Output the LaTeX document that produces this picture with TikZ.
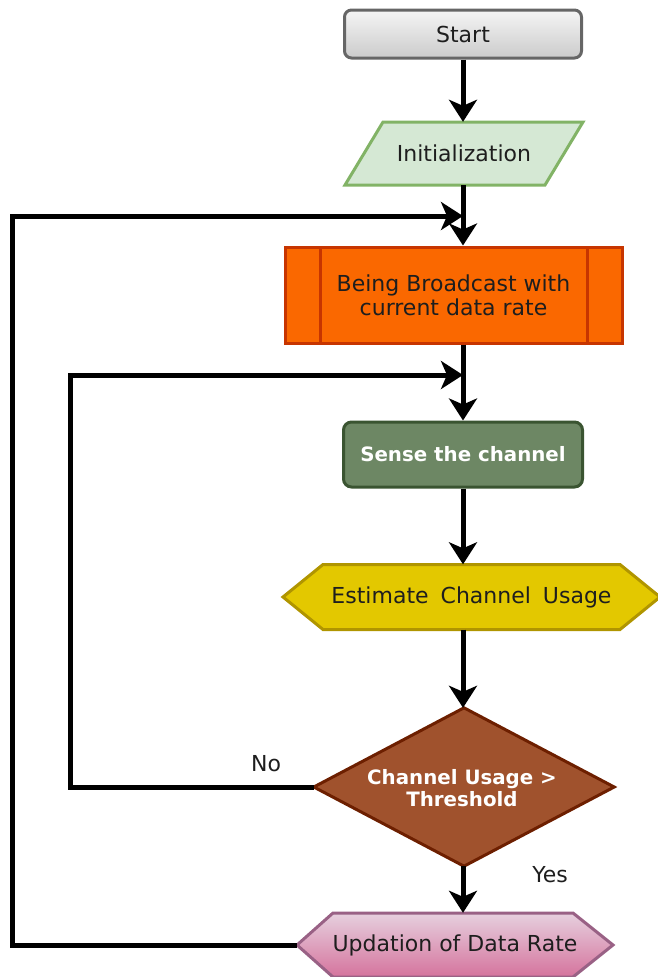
\documentclass[tikz,border=0pt]{standalone}
\usepackage{fontspec}
\setmainfont{DejaVu Sans}
\usetikzlibrary{arrows.meta}

\definecolor{txt}{HTML}{1E1E1E}
\definecolor{startfillA}{HTML}{F5F5F5}
\definecolor{startfillB}{HTML}{CBCBCB}
\definecolor{startline}{HTML}{666666}
\definecolor{initfill}{HTML}{D5E8D4}
\definecolor{initline}{HTML}{82B366}
\definecolor{bcfill}{HTML}{FA6800}
\definecolor{bcline}{HTML}{C73500}
\definecolor{sensefill}{HTML}{6D8764}
\definecolor{senseline}{HTML}{3A5431}
\definecolor{estfill}{HTML}{E3C800}
\definecolor{estline}{HTML}{B09500}
\definecolor{decfill}{HTML}{A0522D}
\definecolor{decline}{HTML}{6D1F00}
\definecolor{updA}{HTML}{E6D0DE}
\definecolor{updB}{HTML}{D5739D}
\definecolor{updline}{HTML}{996185}

\tikzset{
  lbl/.style={font=\fontsize{22}{24}\selectfont, text=txt, align=center},
  boldlbl/.style={font=\fontsize{19.8}{22}\selectfont\bfseries, text=white, align=center},
  frame/.style={draw=none, inner sep=0pt},
  wire/.style={line width=5pt},
  flow/.style={wire, -{Stealth[length=22pt,width=28pt,inset=6pt]}},
  back/.style={flow, line join=miter}
}

\begin{document}
\begin{tikzpicture}[x=1pt,y=-1pt]
\useasboundingbox (0,0) rectangle (657,977);

% ---- Start terminator
\node[frame, minimum width=237pt, minimum height=48pt, rounded corners=7pt,
      draw=startline, line width=3pt, top color=startfillA, bottom color=startfillB,
      lbl] (start) at (463,34) {Start};

% ---- Initialization (parallelogram)
\node[frame, minimum width=238pt, minimum height=63pt] (init) at (464,153.5) {};
\filldraw[fill=initfill, draw=initline, line width=3pt, line join=miter]
  (383,122) -- (583,122) -- (545,185) -- (345,185) -- cycle;
\node[lbl] at (init) {Initialization};

% ---- Broadcast (predefined process)
\node[frame, minimum width=337pt, minimum height=96pt, draw=bcline,
      fill=bcfill, line width=3pt] (bc) at (453.5,295) {};
\draw[bcline, line width=3pt] (320,247) -- (320,343) (587,247) -- (587,343);
\node[lbl] at (bc) {Being Broadcast with\\current data rate};

% ---- Sense the channel
\node[frame, minimum width=239pt, minimum height=65pt, rounded corners=8pt,
      draw=senseline, fill=sensefill, line width=3pt, boldlbl] (sense) at (463,454.5) {Sense the channel};

% ---- Estimate Channel Usage (preparation hexagon)
\node[frame, minimum width=377pt, minimum height=65pt] (est) at (471.5,597) {};
\filldraw[fill=estfill, draw=estline, line width=3pt, line join=miter]
  (283,597) -- (323,564.5) -- (620,564.5) -- (660,597) -- (620,629.5) -- (323,629.5) -- cycle;
\node[lbl] at (est) {Estimate\hspace{12pt}Channel\hspace{12pt}Usage};

% ---- Decision
\node[frame, minimum width=300pt, minimum height=158pt] (dec) at (464,787) {};
\filldraw[fill=decfill, draw=decline, line width=3pt, line join=miter]
  (dec.north) -- (dec.east) -- (dec.south) -- (dec.west) -- cycle;
\node[boldlbl] at (462,788) {Channel Usage >\\Threshold};

% ---- Updation of Data Rate (hexagon)
\node[frame, minimum width=316pt, minimum height=64pt] (upd) at (455,945) {};
\path[top color=updA, bottom color=updB, draw=updline, line width=3pt, line join=miter]
  (297,945) -- (333,913) -- (573,913) -- (613,945) -- (573,977) -- (333,977) -- cycle;
\node[lbl] at (upd) {Updation of Data Rate};

% ---- Joints on the main line where the loops come back
\coordinate (j1) at (463,216);
\coordinate (j2) at (463,375);

% ---- Main flow
\draw[flow] (start.south) -- (init.north -| j1);
\draw[wire] (init.south -| j1) -- (j1);
\draw[flow] (j1) -- (bc.north -| j1);
\draw[wire] (bc.south -| j1) -- (j2);
\draw[flow] (j2) -- (sense.north -| j2);
\draw[flow] (sense.south -| j2) -- (est.north -| j2);
\draw[flow] (est.south -| j2) -- (dec.north -| j2);
\draw[flow] (dec.south -| j2) -- (upd.north -| j2);

% ---- Loops back
\draw[back] (dec.west) -- (70,787) |- (j2);
\draw[back] (upd.west) -- (12,945) |- (j1);

% ---- Branch labels
\node[lbl] (no) at (266,764) {No};
\node[lbl] (yes) at (550,875) {Yes};
\end{tikzpicture}
\end{document}
